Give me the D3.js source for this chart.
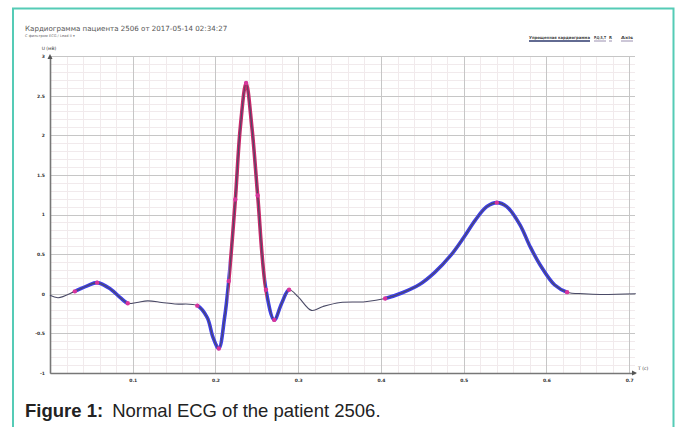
<!DOCTYPE html>
<html>
<head>
<meta charset="utf-8">
<script src="https://cdn.jsdelivr.net/npm/d3@7"></script>
<style>
  html, body { margin: 0; padding: 0; background: #fff; }
  svg { display: block; }
</style>
</head>
<body>
<svg id="chart" width="677" height="427"></svg>
<script>
// ECG trace: time (s) and voltage (mV)
const times = [0, 0.01, 0.03, 0.045, 0.057, 0.073, 0.085, 0.094, 0.105, 0.118, 0.135, 0.151, 0.178,
  0.19, 0.197, 0.204, 0.211, 0.216, 0.224, 0.23, 0.237, 0.244, 0.251, 0.261, 0.271, 0.28, 0.289,
  0.3, 0.316, 0.33, 0.351, 0.381, 0.405, 0.425, 0.447, 0.465, 0.484, 0.5, 0.514, 0.528, 0.54,
  0.552, 0.568, 0.58, 0.592, 0.61, 0.625, 0.645, 0.665, 0.708];
const volts = [-0.02, -0.05, 0.03, 0.10, 0.14, 0.06, -0.05, -0.12, -0.11, -0.09, -0.11, -0.13, -0.15,
  -0.3, -0.55, -0.69, -0.3, 0.16, 1.19, 2.1, 2.66, 2.1, 1.24, 0.05, -0.33, -0.12, 0.05,
  -0.04, -0.21, -0.16, -0.11, -0.10, -0.06, 0.01, 0.12, 0.27, 0.48, 0.71, 0.93, 1.10, 1.15,
  1.10, 0.87, 0.6, 0.37, 0.11, 0.02, 0.0, -0.01, 0.0];

// Detected wave segments (start, end in s)
const waveStart = [0.03, 0.178, 0.261, 0.405];
const waveEnd   = [0.094, 0.216, 0.289, 0.625];
const qrsStart = [0.216];
const qrsEnd   = [0.261];

// Annotated fiducial points (s)
const markTimes = [0.03, 0.057, 0.094, 0.178, 0.204, 0.216, 0.224, 0.237, 0.251, 0.261, 0.271, 0.289, 0.405, 0.54, 0.625];

// Axis ticks
const xTicks = [0.1, 0.2, 0.3, 0.4, 0.5, 0.6, 0.7];
const xTickLabels = ["0.1", "0.2", "0.3", "0.4", "0.5", "0.6", "0.7"];
const yTicks = [-1, -0.5, 0, 0.5, 1, 1.5, 2, 2.5, 3];
const yTickLabels = ["-1", "-0.5", "0", "0.5", "1", "1.5", "2", "2.5", "3"];

const titleText = "Кардиограмма пациента 2506 от 2017-05-14 02:34:27";
const subtitleText = "С фильтром ECG / Lead II ▾";
const menuItems = ["Упрощенная кардиограмма", "P,Q,S,T", "R", "Axis"];

const svg = d3.select("#chart");
const W = 677, H = 427;

// frame
svg.append("path")
  .attr("d", `M13,${H} L13,8.5 L673.5,8.5 L673.5,${H}`)
  .attr("fill", "none").attr("stroke", "#55cbb6").attr("stroke-width", 2);

const x = d3.scaleLinear().domain([0, 0.707]).range([50, 635]);
const y = d3.scaleLinear().domain([-1, 3]).range([373, 56]);

const data = times.map((t, i) => ({ t, v: volts[i] }));

// grid
const g = svg.append("g");
const minorX = d3.range(0, 0.7001, 0.02);
const minorY = d3.range(-1, 3.0001, 0.1);
g.selectAll(".mx").data(minorX).join("line")
  .attr("x1", d => Math.round(x(d)) + 0.5).attr("x2", d => Math.round(x(d)) + 0.5)
  .attr("y1", y(3)).attr("y2", y(-1))
  .attr("stroke", "#f1eaec").attr("stroke-width", 1);
g.selectAll(".my").data(minorY).join("line")
  .attr("y1", d => Math.round(y(d)) + 0.5).attr("y2", d => Math.round(y(d)) + 0.5)
  .attr("x1", x(0)).attr("x2", x(0.707))
  .attr("stroke", "#f1eaec").attr("stroke-width", 1);
g.selectAll(".Mx").data(xTicks).join("line")
  .attr("x1", d => Math.round(x(d)) + 0.5).attr("x2", d => Math.round(x(d)) + 0.5)
  .attr("y1", y(3)).attr("y2", y(-1))
  .attr("stroke", "#c6c6c6").attr("stroke-width", 1);
g.selectAll(".My").data(yTicks).join("line")
  .attr("y1", d => Math.round(y(d)) + 0.5).attr("y2", d => Math.round(y(d)) + 0.5)
  .attr("x1", x(0)).attr("x2", x(0.707))
  .attr("stroke", "#c6c6c6").attr("stroke-width", 1);

// axes
const xAxis = d3.axisBottom(x).tickValues(xTicks).tickFormat((d, i) => xTickLabels[i]).tickSize(0).tickPadding(6);
const yAxis = d3.axisLeft(y).tickValues(yTicks).tickFormat((d, i) => yTickLabels[i]).tickSize(0).tickPadding(5);
const gx = svg.append("g").attr("transform", `translate(0,${y(-1)})`).call(xAxis);
const gy = svg.append("g").attr("transform", `translate(${x(0)},0)`).call(yAxis);
[gx, gy].forEach(a => {
  a.select(".domain").attr("stroke", "#777").attr("stroke-width", 1.6);
  a.selectAll("text").attr("font-family", "DejaVu Sans").attr("font-size", 4.5)
    .attr("fill", "#333").attr("font-weight", "bold");
});
// arrowheads
svg.append("path").attr("d", `M${x(0) - 2.5},${y(3) + 3} L${x(0)},${y(3) - 2} L${x(0) + 2.5},${y(3) + 3} Z`).attr("fill", "#555");
svg.append("path").attr("d", `M${x(0.707) - 3},${y(-1) - 2.5} L${x(0.707) + 2},${y(-1)} L${x(0.707) - 3},${y(-1) + 2.5} Z`).attr("fill", "#555");
svg.append("text").attr("x", x(0) - 1).attr("y", y(3) - 6).attr("text-anchor", "middle")
  .attr("font-family", "DejaVu Sans").attr("font-size", 4.5).attr("fill", "#333").text("U (мВ)");
svg.append("text").attr("x", x(0.707) + 3).attr("y", y(-1) - 3)
  .attr("font-family", "DejaVu Sans").attr("font-size", 4.5).attr("fill", "#333").text("T (c)");

// title
svg.append("text").attr("x", 25).attr("y", 31).attr("font-family", "DejaVu Sans")
  .attr("font-size", 7.1).attr("fill", "#555").text(titleText);
svg.append("text").attr("x", 25).attr("y", 37).attr("font-family", "DejaVu Sans")
  .attr("font-size", 3.6).attr("fill", "#666").text(subtitleText);

// menu links
const menuX = [529, 594, 609, 621];
const menuW = [61, 12, 3, 12];
const menu = svg.append("g");
menuItems.forEach((m, i) => {
  menu.append("text").attr("x", menuX[i]).attr("y", 38.5)
    .attr("font-family", "DejaVu Sans").attr("font-size", 4).attr("font-weight", "bold")
    .attr("textLength", menuW[i]).attr("lengthAdjust", "spacingAndGlyphs")
    .attr("fill", "#444").text(m);
  menu.append("line").attr("x1", menuX[i]).attr("x2", menuX[i] + menuW[i])
    .attr("y1", 41).attr("y2", 41)
    .attr("stroke", i === 0 ? "#2e3a6e" : "#9a8fb0").attr("stroke-width", i === 0 ? 1.3 : 1);
});

// trace
const line = d3.line().x(d => x(d.t)).y(d => y(d.v)).curve(d3.curveCatmullRom.alpha(0.5));
const defs = svg.append("defs");
function clipFor(id, a, b) {
  const c = defs.append("clipPath").attr("id", id);
  a.forEach((s, i) => c.append("rect").attr("x", x(s)).attr("width", x(b[i]) - x(s))
    .attr("y", 0).attr("height", H));
  return `url(#${id})`;
}
const trace = svg.append("g");
trace.append("path").datum(data).attr("d", line).attr("fill", "none")
  .attr("stroke", "#3e3ee6").attr("stroke-width", 3.6).attr("stroke-linejoin", "round")
  .attr("clip-path", clipFor("waves", waveStart, waveEnd));
trace.append("path").datum(data).attr("d", line).attr("fill", "none")
  .attr("stroke", "#c8286a").attr("stroke-width", 3.6).attr("stroke-linejoin", "round")
  .attr("clip-path", clipFor("qrs", qrsStart, qrsEnd));
trace.append("path").datum(data).attr("d", line).attr("fill", "none")
  .attr("stroke", "#4a4a66").attr("stroke-width", 1.1);

const marks = markTimes.map(t => data.find(d => Math.abs(d.t - t) < 1e-9));
trace.selectAll("circle").data(marks).join("circle")
  .attr("cx", d => x(d.t)).attr("cy", d => y(d.v)).attr("r", 2.2)
  .attr("fill", "#d8359c");

// caption
const cap = svg.append("text").attr("x", 25).attr("y", 417)
  .attr("font-family", "Liberation Sans, Arial, sans-serif").attr("font-size", 18.5).attr("fill", "#222");
cap.append("tspan").attr("font-weight", "bold").text("Figure 1:");
cap.append("tspan").attr("dx", 9).text("Normal ECG of the patient 2506.");
</script>
</body>
</html>
